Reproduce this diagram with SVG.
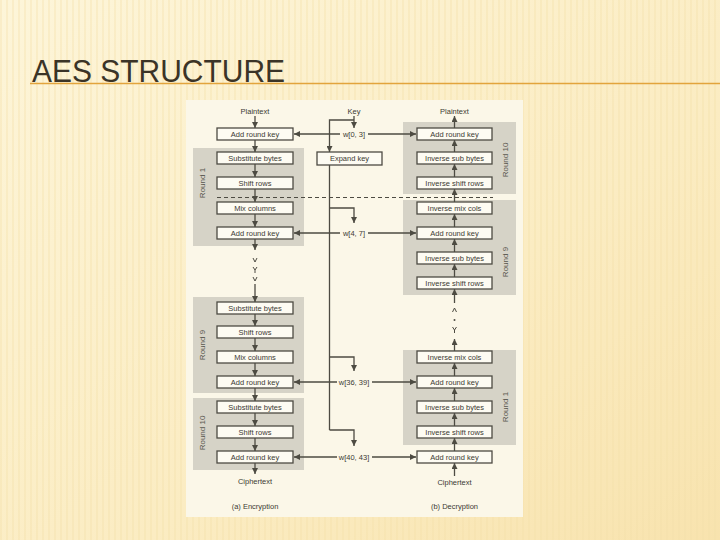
<svg xmlns="http://www.w3.org/2000/svg" width="720" height="540" viewBox="0 0 720 540">
<defs>
<linearGradient id="bg" x1="0" y1="0" x2="1" y2="1">
<stop offset="0" stop-color="#fdf5d9"/>
<stop offset="0.6" stop-color="#fbecc2"/>
<stop offset="1" stop-color="#f8e3ae"/>
</linearGradient>
<pattern id="stripes" width="6" height="540" patternUnits="userSpaceOnUse">
<rect x="0" y="0" width="2" height="540" fill="#f3dfa8" opacity="0.35"/>
</pattern>
<marker id="ah" markerWidth="6" markerHeight="6" refX="6" refY="3" orient="auto" markerUnits="userSpaceOnUse">
<path d="M0,0 L6,3 L0,6 z" fill="#4d4b42"/>
</marker>
<style>
.box{fill:#fdfbf2;stroke:#4d4b42;stroke-width:1.3}
.gray{fill:#d6d3c7}
.t{font-family:"Liberation Sans","DejaVu Sans",sans-serif;font-size:7.5px;fill:#3c3a33;text-anchor:middle;dominant-baseline:central}
.r{font-family:"Liberation Sans","DejaVu Sans",sans-serif;font-size:8px;fill:#5a5850;text-anchor:middle;dominant-baseline:central}
.c{stroke:#4d4b42;stroke-width:1.3;fill:none}
.a{stroke:#4d4b42;stroke-width:1.3;fill:none;marker-end:url(#ah)}
.d{stroke:#4d4b42;stroke-width:1;fill:none}
</style>
</defs>
<rect x="0" y="0" width="720" height="540" fill="url(#bg)"/>
<rect x="0" y="0" width="720" height="540" fill="url(#stripes)"/>
<g id="title">
<text x="32" y="82" font-family="Liberation Sans, DejaVu Sans, sans-serif" font-size="32" fill="#3b3427" textLength="253" lengthAdjust="spacingAndGlyphs">AES STRUCTURE</text>
<line x1="30" y1="83.5" x2="720" y2="83.5" stroke="#e2a43c" stroke-width="1.6"/>
</g>
<rect id="panel" x="186" y="100" width="337" height="417" fill="#fbf7e8"/>
<g id="rounds">
<rect class="gray" x="193" y="148" width="111" height="98"/>
<rect class="gray" x="193" y="297" width="111" height="96"/>
<rect class="gray" x="193" y="398" width="111" height="72"/>
<rect class="gray" x="403" y="122" width="113" height="72"/>
<rect class="gray" x="403" y="200" width="113" height="95"/>
<rect class="gray" x="403" y="350" width="113" height="95"/>
<text class="r" transform="translate(202,183) rotate(-90)">Round 1</text>
<text class="r" transform="translate(202,345) rotate(-90)">Round 9</text>
<text class="r" transform="translate(202,433) rotate(-90)">Round 10</text>
<text class="r" transform="translate(505,160) rotate(-90)">Round 10</text>
<text class="r" transform="translate(505,262) rotate(-90)">Round 9</text>
<text class="r" transform="translate(505,407) rotate(-90)">Round 1</text>
</g>
<g id="connectors">
<line x1="217" y1="197.5" x2="493" y2="197.5" stroke="#4d4b42" stroke-width="1" stroke-dasharray="4 3"/>
<!-- encryption column -->
<line class="a" x1="255" y1="116" x2="255" y2="128"/>
<line class="a" x1="255" y1="140" x2="255" y2="152"/>
<line class="a" x1="255" y1="164" x2="255" y2="177"/>
<line class="a" x1="255" y1="189" x2="255" y2="202"/>
<line class="a" x1="255" y1="214" x2="255" y2="227"/>
<line class="a" x1="255" y1="239" x2="255" y2="250"/>
<polyline class="d" points="253,258 255,262 257,258"/>
<polyline class="d" points="253,267 255,270 257,267"/>
<line class="d" x1="255" y1="270" x2="255" y2="273"/>
<polyline class="d" points="253,277 255,281 257,277"/>
<line class="a" x1="255" y1="284" x2="255" y2="302"/>
<line class="a" x1="255" y1="314" x2="255" y2="326"/>
<line class="a" x1="255" y1="338" x2="255" y2="351"/>
<line class="a" x1="255" y1="363" x2="255" y2="376"/>
<line class="a" x1="255" y1="388" x2="255" y2="401"/>
<line class="a" x1="255" y1="413" x2="255" y2="426"/>
<line class="a" x1="255" y1="438" x2="255" y2="451"/>
<line class="a" x1="255" y1="463" x2="255" y2="474"/>
<!-- decryption column -->
<line class="a" x1="454.5" y1="128" x2="454.5" y2="116"/>
<line class="a" x1="454.5" y1="152" x2="454.5" y2="140"/>
<line class="a" x1="454.5" y1="177" x2="454.5" y2="164"/>
<line class="a" x1="454.5" y1="202" x2="454.5" y2="189"/>
<line class="a" x1="454.5" y1="227" x2="454.5" y2="214"/>
<line class="a" x1="454.5" y1="252" x2="454.5" y2="239"/>
<line class="a" x1="454.5" y1="277" x2="454.5" y2="264"/>
<line class="a" x1="454.5" y1="303" x2="454.5" y2="289"/>
<polyline class="d" points="452.5,312 454.5,308 456.5,312"/>
<circle cx="454.5" cy="320" r="1" fill="#4d4b42"/>
<polyline class="d" points="452.5,327 454.5,330 456.5,327"/>
<line class="d" x1="454.5" y1="330" x2="454.5" y2="333"/>
<line class="a" x1="454.5" y1="351" x2="454.5" y2="339"/>
<line class="a" x1="454.5" y1="376" x2="454.5" y2="363"/>
<line class="a" x1="454.5" y1="401" x2="454.5" y2="388"/>
<line class="a" x1="454.5" y1="426" x2="454.5" y2="413"/>
<line class="a" x1="454.5" y1="451" x2="454.5" y2="438"/>
<line class="a" x1="454.5" y1="476" x2="454.5" y2="463"/>
<!-- key schedule -->
<line class="a" x1="354" y1="116" x2="354" y2="128"/>
<polyline class="a" points="354,120 329.5,120 329.5,152"/>
<line class="c" x1="329.5" y1="165" x2="329.5" y2="430"/>
<polyline class="a" points="329.5,208 354,208 354,223"/>
<polyline class="a" points="329.5,357 354,357 354,371"/>
<polyline class="a" points="329.5,430 354,430 354,446"/>
<line class="a" x1="340" y1="134" x2="294" y2="134"/>
<line class="a" x1="368" y1="134" x2="416" y2="134"/>
<line class="a" x1="340" y1="233" x2="294" y2="233"/>
<line class="a" x1="368" y1="233" x2="416" y2="233"/>
<line class="a" x1="337" y1="382" x2="294" y2="382"/>
<line class="a" x1="372" y1="382" x2="416" y2="382"/>
<line class="a" x1="337" y1="457" x2="294" y2="457"/>
<line class="a" x1="372" y1="457" x2="416" y2="457"/>
</g>
<g id="enc-add0"><rect class="box" x="217" y="128" width="76" height="12"/><text class="t" x="255" y="134">Add round key</text></g>
<g id="enc-sub1"><rect class="box" x="217" y="152" width="76" height="12"/><text class="t" x="255" y="158">Substitute bytes</text></g>
<g id="enc-shift1"><rect class="box" x="217" y="177" width="76" height="12"/><text class="t" x="255" y="183">Shift rows</text></g>
<g id="enc-mix1"><rect class="box" x="217" y="202" width="76" height="12"/><text class="t" x="255" y="208">Mix columns</text></g>
<g id="enc-add1"><rect class="box" x="217" y="227" width="76" height="12"/><text class="t" x="255" y="233">Add round key</text></g>
<g id="enc-sub9"><rect class="box" x="217" y="302" width="76" height="12"/><text class="t" x="255" y="308">Substitute bytes</text></g>
<g id="enc-shift9"><rect class="box" x="217" y="326" width="76" height="12"/><text class="t" x="255" y="332">Shift rows</text></g>
<g id="enc-mix9"><rect class="box" x="217" y="351" width="76" height="12"/><text class="t" x="255" y="357">Mix columns</text></g>
<g id="enc-add9"><rect class="box" x="217" y="376" width="76" height="12"/><text class="t" x="255" y="382">Add round key</text></g>
<g id="enc-sub10"><rect class="box" x="217" y="401" width="76" height="12"/><text class="t" x="255" y="407">Substitute bytes</text></g>
<g id="enc-shift10"><rect class="box" x="217" y="426" width="76" height="12"/><text class="t" x="255" y="432">Shift rows</text></g>
<g id="enc-add10"><rect class="box" x="217" y="451" width="76" height="12"/><text class="t" x="255" y="457">Add round key</text></g>
<g id="dec-add10"><rect class="box" x="417" y="128" width="75" height="12"/><text class="t" x="454.5" y="134">Add round key</text></g>
<g id="dec-sub10"><rect class="box" x="417" y="152" width="75" height="12"/><text class="t" x="454.5" y="158">Inverse sub bytes</text></g>
<g id="dec-shift10"><rect class="box" x="417" y="177" width="75" height="12"/><text class="t" x="454.5" y="183">Inverse shift rows</text></g>
<g id="dec-mix9"><rect class="box" x="417" y="202" width="75" height="12"/><text class="t" x="454.5" y="208">Inverse mix cols</text></g>
<g id="dec-add9"><rect class="box" x="417" y="227" width="75" height="12"/><text class="t" x="454.5" y="233">Add round key</text></g>
<g id="dec-sub9"><rect class="box" x="417" y="252" width="75" height="12"/><text class="t" x="454.5" y="258">Inverse sub bytes</text></g>
<g id="dec-shift9"><rect class="box" x="417" y="277" width="75" height="12"/><text class="t" x="454.5" y="283">Inverse shift rows</text></g>
<g id="dec-mix1"><rect class="box" x="417" y="351" width="75" height="12"/><text class="t" x="454.5" y="357">Inverse mix cols</text></g>
<g id="dec-add1"><rect class="box" x="417" y="376" width="75" height="12"/><text class="t" x="454.5" y="382">Add round key</text></g>
<g id="dec-sub1"><rect class="box" x="417" y="401" width="75" height="12"/><text class="t" x="454.5" y="407">Inverse sub bytes</text></g>
<g id="dec-shift1"><rect class="box" x="417" y="426" width="75" height="12"/><text class="t" x="454.5" y="432">Inverse shift rows</text></g>
<g id="dec-add0"><rect class="box" x="417" y="451" width="75" height="12"/><text class="t" x="454.5" y="457">Add round key</text></g>
<g id="expand"><rect class="box" x="317" y="152" width="65" height="13"/><text class="t" x="349.5" y="158.5">Expand key</text></g>
<g id="labels">
<text class="t" x="255" y="111">Plaintext</text>
<text class="t" x="454.5" y="111">Plaintext</text>
<text class="t" x="354" y="111">Key</text>
<text class="t" x="354" y="134">w[0, 3]</text>
<text class="t" x="354" y="233">w[4, 7]</text>
<text class="t" x="354" y="382">w[36, 39]</text>
<text class="t" x="354" y="457">w[40, 43]</text>
<text class="t" x="255" y="481">Ciphertext</text>
<text class="t" x="454.5" y="482">Ciphertext</text>
<text class="t" x="255" y="506">(a) Encryption</text>
<text class="t" x="454.5" y="506">(b) Decryption</text>
</g>
</svg>
